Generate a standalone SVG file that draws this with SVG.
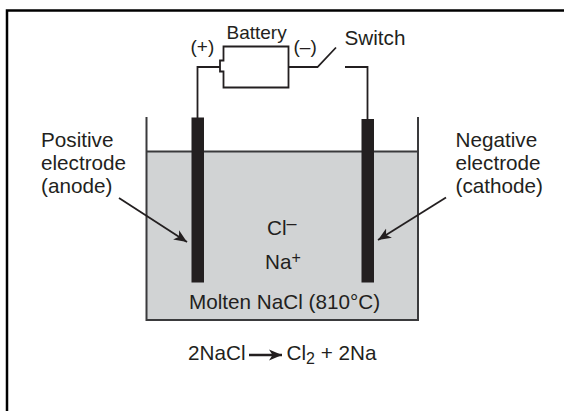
<svg xmlns="http://www.w3.org/2000/svg" width="564" height="411" viewBox="0 0 564 411">
<defs>
<marker id="ah" markerUnits="userSpaceOnUse" markerWidth="15" markerHeight="12" refX="13" refY="5.500" orient="auto" viewBox="0 0 15 11"><path d="M0 0L13 5.500L0 11L3.500 5.500Z" fill="#231f20"/></marker>
</defs>
<style>
text{font-family:"Liberation Sans",Arial,sans-serif;font-size:20.700px;fill:#231f20}
.s{font-size:19px}
.w{fill:none;stroke:#231f20;stroke-width:1.800}
.t{fill:none;stroke:#3a3a3c;stroke-width:2}
.el{fill:#231f20}
.ar{fill:none;stroke:#231f20;stroke-width:1.800;marker-end:url(#ah)}
</style>
<rect width="564" height="411" fill="#fff"/>
<path id="frame" d="M7 411V10.500H564" fill="none" stroke="#000" stroke-width="2.500"/>
<g id="tank">
<rect x="146.500" y="151.500" width="271.500" height="169" fill="#d1d3d4" stroke="none"/>
<path class="t" d="M146.500 117V320H418V117"/>
<path class="t" d="M146.500 151.500H418" stroke-width="1.600"/>
</g>
<g id="anode"><rect class="el" x="191.500" y="117.500" width="12.500" height="165"/></g>
<g id="cathode"><rect class="el" x="361.500" y="119" width="12.500" height="163.500"/></g>
<g id="battery"><path class="w" d="M223.500 46.500H288.500V87.500H223.500V71.500H220V60.500H223.500Z"/></g>
<g id="connectors">
<path class="w" d="M197.500 118V67H220"/>
<path class="w" d="M288.500 67H317.500L336 47.500"/>
<path class="w" d="M345 67H367.500V119"/>
<path class="ar" d="M119 198L187 242"/>
<path class="ar" d="M446 197.500L378 240"/>
<path d="M249 355H282" stroke="#231f20" stroke-width="2.400" fill="none" marker-end="url(#ah)"/>
</g>
<g id="labels">
<text class="s" x="226.500" y="39">Battery</text>
<text class="s" x="190.500" y="53">(+)</text>
<text class="s" x="293.500" y="53">(–)</text>
<text x="344.500" y="45">Switch</text>
<text x="41" y="147">Positive</text>
<text x="41" y="170">electrode</text>
<text x="41" y="193">(anode)</text>
<text x="455.500" y="147">Negative</text>
<text x="455.500" y="170">electrode</text>
<text x="455.500" y="193">(cathode)</text>
<text x="267" y="235">Cl<tspan font-size="18" dy="-6">–</tspan></text>
<text x="265" y="269">Na<tspan font-size="16" dy="-6">+</tspan></text>
<text x="189" y="309">Molten NaCl (810°C)</text>
<text x="188" y="360">2NaCl</text>
<text x="286.500" y="360">Cl<tspan font-size="16" dy="4">2</tspan><tspan dy="-4"> + 2Na</tspan></text>
</g>
</svg>
